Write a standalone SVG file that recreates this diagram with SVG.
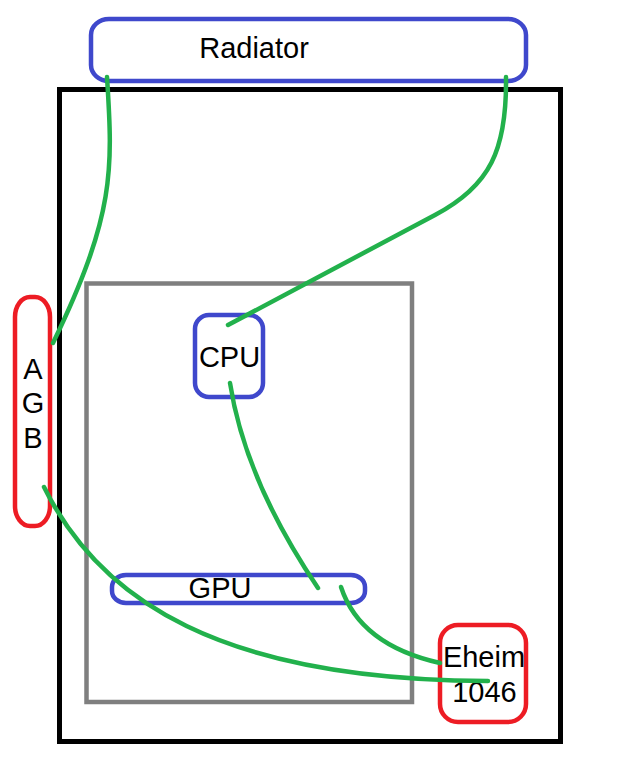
<svg xmlns="http://www.w3.org/2000/svg" width="640" height="773" viewBox="0 0 640 773">
<style>
.blue{fill:none;stroke:#3f48cc;stroke-width:4.5}
.red{fill:none;stroke:#ed1c24;stroke-width:4.5}
.lbl{font-family:"Liberation Sans",Arial,sans-serif;font-size:29px;fill:#000;text-anchor:middle}
.pipe{fill:none;stroke:#22b14c;stroke-width:4.5;stroke-linecap:round;stroke-linejoin:round}
</style>
<rect width="640" height="773" fill="#fff"/>
<g id="case"><rect x="59.5" y="89.5" width="501" height="652" fill="none" stroke="#000" stroke-width="5"/></g>
<g id="motherboard"><rect x="86.5" y="283.5" width="325.5" height="418.5" fill="none" stroke="#7f7f7f" stroke-width="4.5"/></g>
<g id="radiator"><rect class="blue" x="91" y="19" width="435" height="62" rx="18" ry="16"/><text class="lbl" x="254" y="58">Radiator</text></g>
<g id="agb"><rect class="red" x="15" y="297" width="35" height="229" rx="15" ry="20"/><text class="lbl" x="33" y="379">A</text><text class="lbl" x="33" y="413">G</text><text class="lbl" x="33" y="448">B</text></g>
<g id="cpu"><rect class="blue" x="195" y="315" width="68" height="82" rx="14"/><text class="lbl" x="229.5" y="367">CPU</text></g>
<g id="gpu"><rect class="blue" x="112" y="575" width="253" height="28" rx="14" ry="12"/><text class="lbl" x="220" y="598">GPU</text></g>
<g id="eheim"><rect class="red" x="440" y="625" width="86" height="97" rx="18"/><text class="lbl" x="484" y="667">Eheim</text><text class="lbl" x="484.5" y="702">1046</text></g>
<g id="connectors">
<path class="pipe" d="M107,77 C113,170 115,215 53,343"/>
<path class="pipe" d="M506,77 C507,150 490,186 435,215 L228,325"/>
<path class="pipe" d="M230,383 Q245,480 318,588"/>
<path class="pipe" d="M341,587 Q360,645 440,663"/>
<path class="pipe" d="M44,487 C100,600 220,680 488,681"/>
</g>
</svg>
